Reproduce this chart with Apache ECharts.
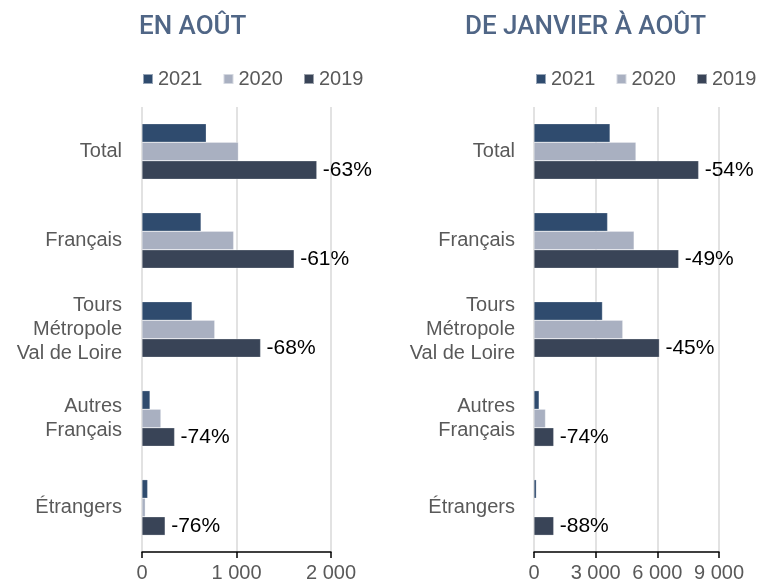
<!DOCTYPE html>
<html>
<head>
<meta charset="utf-8">
<script src="https://cdn.jsdelivr.net/npm/echarts@6/dist/echarts.min.js"></script>
<style>
html, body { margin: 0; padding: 0; background: #fff; }
#chart { width: 760px; height: 583px; }
</style>
</head>
<body>
<div id="chart"></div>
<script>
// catégories (de haut en bas)
var categories = ['Total', 'Français', 'Tours\nMétropole\nVal de Loire', 'Autres\nFrançais', 'Étrangers'];
var years = ['2021', '2020', '2019'];

// en août
var aout2021 = [680, 625, 530, 85, 60];
var aout2020 = [1020, 970, 770, 200, 35];
var aout2019 = [1850, 1610, 1255, 345, 245];
var aoutPct = ['-63%', '-61%', '-68%', '-74%', '-76%'];

// de janvier à août
var cumul2021 = [3700, 3580, 3330, 250, 115];
var cumul2020 = [4960, 4870, 4320, 560, 40];
var cumul2019 = [8010, 7040, 6100, 960, 960];
var cumulPct = ['-54%', '-49%', '-45%', '-74%', '-88%'];

var colors = ['#2f4b6e', '#a9b0c1', '#394457'];
var txtGray = '#595959';
var font = '"Liberation Sans", Arial, sans-serif';

function fmtNum(v) {
    return String(v).replace(/\B(?=(\d{3})+(?!\d))/g, ' ');
}

function xAxisCfg(idx, max, interval) {
    return {
        type: 'value', gridIndex: idx, min: 0, max: max, interval: interval,
        axisLine: { show: true, lineStyle: { color: '#000', width: 1.5 } },
        axisTick: { show: true, length: 6, lineStyle: { color: '#000', width: 1.5 } },
        axisLabel: { color: txtGray, fontSize: 20, fontFamily: font, margin: 11, formatter: fmtNum },
        splitLine: { show: true, lineStyle: { color: '#d9d9d9', width: 1.5 } }
    };
}

function yAxisCfg(idx, margin) {
    return {
        type: 'category', gridIndex: idx, data: categories, inverse: true,
        axisLine: { show: false }, axisTick: { show: false },
        axisLabel: { color: txtGray, fontSize: 20, fontFamily: font, lineHeight: 24, margin: margin, align: 'right' }
    };
}

function barSeries(name, idx, data, color, pct) {
    var s = {
        name: name, type: 'bar', xAxisIndex: idx, yAxisIndex: idx, data: data,
        barGap: '0%', barCategoryGap: '37.5%',
        itemStyle: { color: color, borderColor: 'rgba(255,255,255,0.5)', borderWidth: 0.5 },
        animation: false
    };
    if (pct) {
        s.label = {
            show: true, position: 'right', distance: 6, color: '#000', fontSize: 21, fontFamily: font,
            formatter: function (p) { return pct[p.dataIndex]; }
        };
    }
    return s;
}

var legendCfg = function (left) {
    return {
        left: left, top: 64, width: 300, data: years, itemWidth: 10, itemHeight: 10, itemGap: 20,
        icon: 'rect', textStyle: { color: txtGray, fontSize: 20, fontFamily: font }
    };
};

var myChart = echarts.init(document.getElementById('chart'), null, { renderer: 'canvas' });
myChart.setOption({
    animation: false,
    title: [
        { text: 'EN AOÛT', left: 134, top: 9, textStyle: { color: '#506686', fontSize: 26, fontWeight: 500, fontFamily: 'Roboto' } },
        { text: 'DE JANVIER À AOÛT', left: 460, top: 9, textStyle: { color: '#506686', fontSize: 26, fontWeight: 500, fontFamily: 'Roboto' } }
    ],
    legend: [legendCfg(137), legendCfg(530)],
    grid: [
        { left: 142, width: 189, top: 107, bottom: 31 },
        { left: 534, width: 185, top: 107, bottom: 31 }
    ],
    xAxis: [xAxisCfg(0, 2000, 1000), xAxisCfg(1, 9000, 3000)],
    yAxis: [yAxisCfg(0, 20), yAxisCfg(1, 19)],
    series: [
        barSeries('2021', 0, aout2021, colors[0]),
        barSeries('2020', 0, aout2020, colors[1]),
        barSeries('2019', 0, aout2019, colors[2], aoutPct),
        barSeries('2021', 1, cumul2021, colors[0]),
        barSeries('2020', 1, cumul2020, colors[1]),
        barSeries('2019', 1, cumul2019, colors[2], cumulPct)
    ]
});
window.addEventListener('resize', function () {
    myChart.resize();
});
</script>
</body>
</html>
